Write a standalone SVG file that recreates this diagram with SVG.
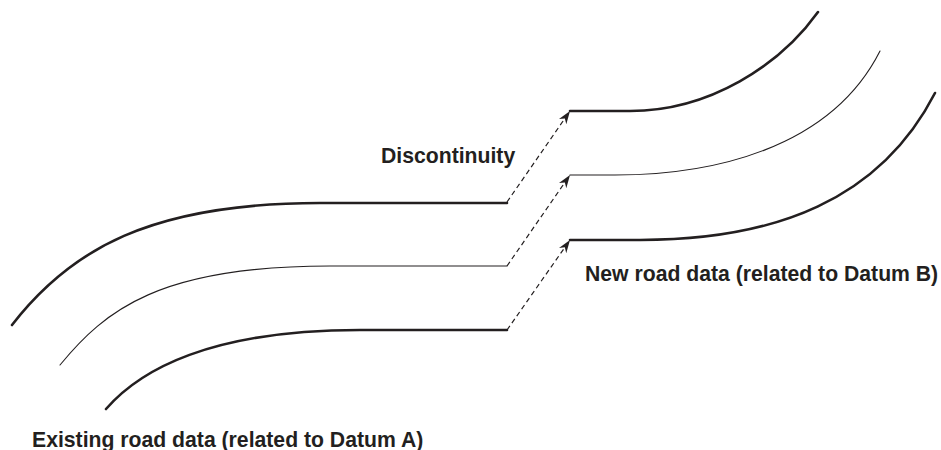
<svg xmlns="http://www.w3.org/2000/svg" width="941" height="450" viewBox="0 0 941 450">
  <style>
    .edge { fill: none; stroke: #231f20; stroke-linecap: round; stroke-linejoin: round; }
    .thick { stroke-width: 2.6; }
    .thin { stroke-width: 1.1; }
    .jump { fill: none; stroke: #231f20; stroke-width: 1.2; stroke-dasharray: 5 3.5; marker-end: url(#head); }
    .label { font-family: "Liberation Sans", Arial, Helvetica, sans-serif; font-weight: bold; font-size: 21.2px; fill: #231f20; }
  </style>
  <defs>
    <marker id="head" markerUnits="userSpaceOnUse" viewBox="-13 -5 14 10" refX="0" refY="0" markerWidth="14" markerHeight="10" orient="auto">
      <path d="M0,0 L-13,-4.5 L-9,0 L-13,4.5 Z" fill="#231f20"/>
    </marker>
  </defs>

  <!-- existing road edges (Datum A) -->
  <g id="existing-road">
    <path class="edge thick" d="M12,325 C70,250 150,203 320,203 L507,203"/>
    <path class="edge thin" d="M60,365 C105,310 160,266 330,266 L507,266"/>
    <path class="edge thick" d="M106,409 C140,370 210,330 360,330 L507,330"/>
  </g>

  <!-- new road edges (Datum B) -->
  <g id="new-road">
    <path class="edge thick" d="M570,111 L630,111 C710,111 780,65 818,12"/>
    <path class="edge thin" d="M570,175 L615,175 C710,175 830,150 880,51"/>
    <path class="edge thick" d="M570,240 L640,240 C775,240 880,200 935,93"/>
  </g>

  <!-- dashed jumps across the discontinuity -->
  <g id="connectors">
    <path class="jump" d="M507,202 L570,111"/>
    <path class="jump" d="M507,266 L570,175"/>
    <path class="jump" d="M507,330 L570,240"/>
  </g>

  <g id="label-discontinuity">
    <text class="label" x="381" y="163">Discontinuity</text>
  </g>
  <g id="label-new">
    <text class="label" x="585" y="281">New road data (related to Datum B)</text>
  </g>
  <g id="label-existing">
    <text class="label" x="32" y="447">Existing road data (related to Datum A)</text>
  </g>
</svg>
